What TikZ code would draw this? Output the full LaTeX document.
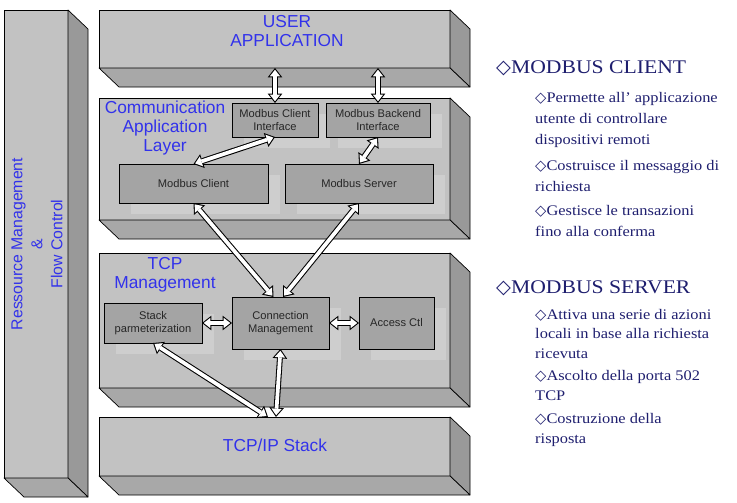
\documentclass[tikz,border=0pt]{standalone}
\usepackage{fontspec}
\setmainfont{Liberation Sans}
\newfontfamily\notefont[FakeStretch=1.12]{Liberation Serif}
\newfontfamily\diafont{DejaVu Sans}
\usetikzlibrary{arrows.meta,calc,shadows}

\definecolor{faceclr}{RGB}{194,194,194}
\definecolor{sideclr}{RGB}{153,153,153}
\definecolor{baseclr}{RGB}{168,168,168}
\definecolor{blockclr}{RGB}{164,164,164}
\definecolor{shadeclr}{RGB}{206,206,206}
\definecolor{labelblue}{RGB}{50,50,235}
\definecolor{notenavy}{RGB}{30,30,110}

\def\pxu{0.03cm}

% side and bottom faces of a layer
\newcommand\extrude[1]{%
  \filldraw[sideface] (#1.north east) -- ++(20,19) -- ($(#1.south east)+(20,19)$) -- (#1.south east) -- cycle;
  \filldraw[baseface] (#1.south west) -- ++(20,19) -- ($(#1.south east)+(20,19)$) -- (#1.south east) -- cycle;
}
% white block arrow with black outline
\newcommand\wirearrow[2]{%
  \draw[arrowout] (#1) -- (#2);
  \draw[arrowin] (#1) -- (#2);
}

\tikzset{
  layer/.style={draw, line width=0.6pt, fill=faceclr, outer sep=0pt, inner sep=0pt},
  sideface/.style={draw, line width=0.6pt, fill=sideclr, line join=round},
  baseface/.style={draw, line width=0.6pt, fill=baseclr, line join=round},
  block/.style={draw, line width=0.6pt, fill=blockclr, outer sep=0pt, inner sep=1pt,
    align=center, text=black!85, font=\fontsize{9.5}{11}\selectfont,
    drop shadow={shadow xshift=0.36cm, shadow yshift=-0.33cm, fill=shadeclr, opacity=1}},
  layerlabel/.style={text=labelblue, align=center, font=\fontsize{14.8}{16}\selectfont},
  arrowout/.style={line width=5pt, draw=black,
    {Triangle[width=12.5pt,length=8pt,line width=0pt]}-{Triangle[width=12.5pt,length=8pt,line width=0pt]}},
  arrowin/.style={line width=3.2pt, draw=white, shorten <=1.5pt, shorten >=1.5pt,
    {Triangle[width=8.8pt,length=5.6pt,line width=0pt]}-{Triangle[width=8.8pt,length=5.6pt,line width=0pt]}},
  notehead/.style={text=notenavy, font=\notefont\fontsize{16.5}{19}\selectfont, anchor=base west, inner sep=0pt},
  notebody/.style={text=notenavy, font=\notefont\fontsize{12.5}{17.8}\selectfont, align=left, anchor=base west, inner sep=0pt}
}

\begin{document}
\begin{tikzpicture}[x=0.03cm, y=-0.03cm]
\useasboundingbox (0,0) rectangle (737,502);

% layers
\node[layer, minimum width=64*\pxu, minimum height=468*\pxu] (resmgmt) at (36,244) {};
\node[layer, minimum width=351*\pxu, minimum height=58*\pxu] (userapp) at (274.5,39) {};
\node[layer, minimum width=351*\pxu, minimum height=122*\pxu] (commlayer) at (274.5,159) {};
\node[layer, minimum width=351*\pxu, minimum height=135*\pxu] (tcpmgmt) at (274.5,320.5) {};
\node[layer, minimum width=351*\pxu, minimum height=59*\pxu] (tcpipstack) at (274.5,446.5) {};
\extrude{resmgmt}
\extrude{userapp}
\extrude{commlayer}
\extrude{tcpmgmt}
\extrude{tcpipstack}

\node[layerlabel, rotate=90, font=\fontsize{13.5}{17}\selectfont] (reslabel) at (37,244) {Ressource Management\\\&\\Flow Control};
\node[layerlabel] (ualabel) at (287,31) {USER\\APPLICATION};
\node[layerlabel] (commlabel) at (165,128) {Communication\\Application\\Layer};
\node[layerlabel] (tcplabel) at (165,275) {TCP\\Management};
\node[layerlabel] (iplabel) at (275,445) {TCP/IP Stack};

% blocks
\node[block, minimum width=86*\pxu, minimum height=34*\pxu] (mci) at (275,120) {Modbus Client\\Interface};
\node[block, minimum width=104*\pxu, minimum height=34*\pxu] (mbi) at (378,120) {Modbus Backend\\Interface};
\node[block, minimum width=149*\pxu, minimum height=39*\pxu] (mclient) at (193.5,183.5) {Modbus Client};
\node[block, minimum width=148*\pxu, minimum height=39*\pxu] (mserver) at (359,183.5) {Modbus Server};
\node[block, minimum width=98*\pxu, minimum height=40*\pxu] (stackparm) at (153,323) {Stack\\parmeterization};
\node[block, minimum width=97*\pxu, minimum height=52*\pxu] (connmgmt) at (280.5,323) {Connection\\Management};
\node[block, minimum width=75*\pxu, minimum height=52*\pxu] (accessctl) at (396.5,323) {Access Ctl};

% connector ends
\coordinate (uaout1) at (mci.north |- userapp.south);
\coordinate (uaout2) at (mbi.north |- userapp.south);
\coordinate (connin1) at ($(connmgmt.north)+(-7,0)$);
\coordinate (connin2) at ($(connmgmt.north)+(2.5,0)$);
\coordinate (ipin1) at (268,417);
\coordinate (ipin2) at (276,417);

% arrows
\wirearrow{uaout1}{mci.north}
\wirearrow{uaout2}{mbi.north}
\wirearrow{mclient.north}{mci.south}
\wirearrow{mbi.south}{mserver.north}
\wirearrow{mclient.south}{connin1}
\wirearrow{mserver.south}{connin2}
\wirearrow{stackparm.east}{connmgmt.west}
\wirearrow{connmgmt.east}{accessctl.west}
\wirearrow{stackparm.south}{ipin1}
\wirearrow{connmgmt.south}{ipin2}

% notes (anchored at the baseline of the last line)
\node[notehead] (clienthead) at (496,73) {{\diafont ◇}MODBUS CLIENT};
\node[notebody] (clientA) at (535,144) {{\diafont ◇}Permette all’ applicazione\\utente di controllare\\dispositivi remoti};
\node[notebody] (clientB) at (535,191) {{\diafont ◇}Costruisce il messaggio di\\richiesta};
\node[notebody] (clientC) at (535,236) {{\diafont ◇}Gestisce le transazioni\\fino alla conferma};
\node[notehead] (serverhead) at (496,293) {{\diafont ◇}MODBUS SERVER};
\node[notebody, font=\notefont\fontsize{12.5}{16.3}\selectfont] (serverA) at (535,358) {{\diafont ◇}Attiva una serie di azioni\\locali in base alla richiesta\\ricevuta};
\node[notebody, font=\notefont\fontsize{12.5}{16.3}\selectfont] (serverB) at (535,400) {{\diafont ◇}Ascolto della porta 502\\TCP};
\node[notebody, font=\notefont\fontsize{12.5}{16.3}\selectfont] (serverC) at (535,443) {{\diafont ◇}Costruzione della\\risposta};
\end{tikzpicture}
\end{document}
